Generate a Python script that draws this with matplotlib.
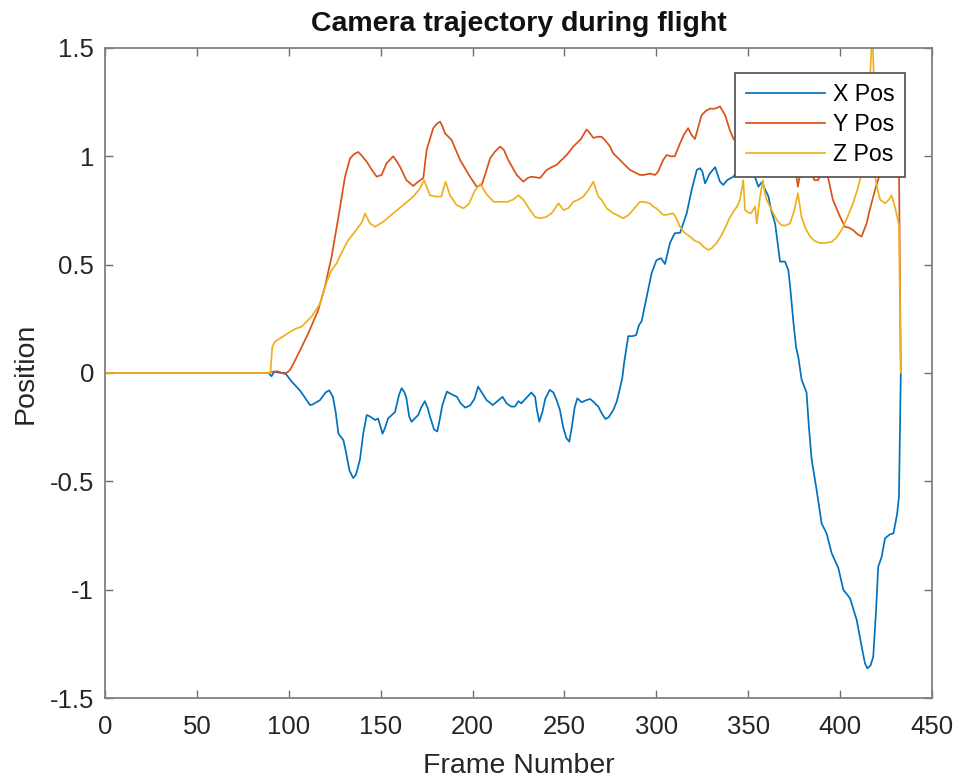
import matplotlib
matplotlib.use("Agg")
import matplotlib.pyplot as plt
from matplotlib.ticker import FuncFormatter

plt.rcParams['font.family'] = ['Liberation Sans', 'DejaVu Sans']
plt.rcParams['axes.unicode_minus'] = False

# camera position per frame (sampled at the turning points of each trace)
x_frames = [1, 89, 90.6, 92, 96, 98, 101.6, 106, 108.5, 111.5, 113, 117, 120, 122, 124, 125.5, 127,
            129.7, 131, 133, 135, 136.5, 138.7, 140.5, 142.4, 144, 147, 148.6, 151, 152.5, 154, 157.8,
            160, 161.4, 163, 164, 165.5, 166.8, 168.5, 170.4, 172, 174, 175.5, 176.8, 179, 180.8, 182,
            183.5, 186, 189, 191.5, 193.5, 196, 198.6, 201, 203, 205, 207.6, 211, 213.5, 216.3, 218.5,
            221, 223, 225, 226.5, 229, 232, 234, 235, 236.3, 238, 239.5, 242, 244, 245.7, 247.5, 249.3,
            251, 252.6, 254, 255.5, 257, 259.3, 262, 264, 266, 268.4, 270.5, 272.3, 274, 276.6, 278.5,
            280, 281.5, 282.5, 284.7, 287, 289, 290.5, 292, 294.7, 297.4, 300, 302.5, 304.7, 307.4, 310,
            312.9, 316.5, 319.2, 322, 323.7, 325, 326.5, 329, 332, 334.6, 336.4, 338.5, 341.9, 344, 347,
            350, 353, 355.5, 357.3, 359, 361, 362.5, 364.6, 366, 367.3, 370, 371.8, 373, 374.5, 376,
            377.3, 379, 381.7, 383, 384.5, 387.2, 389.9, 392.6, 395.4, 399, 401.7, 405.4, 409, 411.7,
            413.5, 414.8, 416.5, 418, 419.5, 420.7, 422.6, 424.4, 427, 429, 431, 432, 433]
x_pos = [0, 0, -0.015, 0.005, 0, 0, -0.04, -0.08, -0.11, -0.148, -0.145, -0.125, -0.09, -0.08, -0.11,
         -0.18, -0.28, -0.31, -0.36, -0.45, -0.485, -0.47, -0.40, -0.28, -0.194, -0.2, -0.217, -0.21,
         -0.28, -0.25, -0.21, -0.18, -0.1, -0.07, -0.09, -0.117, -0.2, -0.225, -0.21, -0.194, -0.16,
         -0.13, -0.16, -0.2, -0.26, -0.27, -0.22, -0.15, -0.086, -0.1, -0.11, -0.14, -0.16, -0.15,
         -0.12, -0.063, -0.09, -0.125, -0.148, -0.13, -0.11, -0.14, -0.155, -0.155, -0.13, -0.14,
         -0.117, -0.09, -0.11, -0.17, -0.225, -0.18, -0.12, -0.078, -0.09, -0.125, -0.17, -0.25, -0.3,
         -0.317, -0.25, -0.16, -0.117, -0.135, -0.125, -0.12, -0.135, -0.155, -0.19, -0.212, -0.205,
         -0.17, -0.13, -0.078, -0.02, 0.05, 0.17, 0.17, 0.175, 0.22, 0.24, 0.35, 0.46, 0.52, 0.53,
         0.503, 0.6, 0.645, 0.647, 0.737, 0.845, 0.937, 0.945, 0.93, 0.875, 0.92, 0.95, 0.883, 0.868,
         0.89, 0.906, 0.93, 0.95, 0.94, 0.92, 0.86, 0.88, 0.85, 0.814, 0.75, 0.69, 0.6, 0.514, 0.514,
         0.475, 0.38, 0.24, 0.12, 0.07, -0.03, -0.09, -0.25, -0.40, -0.54, -0.694, -0.74, -0.832,
         -0.9, -1.0, -1.04, -1.14, -1.263, -1.34, -1.363, -1.35, -1.31, -1.1, -0.894, -0.848, -0.763,
         -0.745, -0.74, -0.65, -0.57, 0]

y_frames = [1, 89, 91, 94, 96.5, 98, 100.7, 104, 108, 110.6, 116, 119.7, 123.3, 127, 130.6, 133.3,
            135.5, 137.8, 140, 142.4, 145, 147.8, 150.5, 153.2, 156.8, 158.5, 160.5, 164, 167.7, 170.4,
            173.2, 175, 178.6, 180.5, 182.3, 183.5, 185, 188.6, 193.2, 198.6, 202.2, 205, 207, 209.5,
            212, 215, 217, 219.4, 224, 227.6, 230, 232, 236.7, 240.3, 243, 245.7, 248, 251.2, 254.8,
            256.6, 259, 262, 263.5, 265.7, 268, 270.2, 272.5, 274.8, 276.5, 280.2, 283.8, 285.7, 291,
            293, 296.5, 299.3, 301, 303.7, 305.6, 308, 310, 312.9, 315, 317.3, 319, 321, 324.6, 327,
            329.2, 332, 334.6, 336, 337.4, 340, 342, 346, 350, 354, 358, 362, 366, 370, 374, 376, 377,
            378.5, 381, 384, 386, 388, 390, 392, 394, 396, 398, 400, 402.6, 405, 407, 409.5, 411.7, 413,
            414.4, 416, 418, 420, 423, 426, 429, 432, 433]
y_pos = [0, 0, 0.006, 0.008, 0, -0.005, 0.014, 0.068, 0.137, 0.183, 0.29, 0.4, 0.537, 0.72, 0.906,
         0.99, 1.01, 1.02, 1.0, 0.975, 0.94, 0.906, 0.914, 0.968, 1.0, 0.98, 0.952, 0.89, 0.863, 0.883,
         0.9, 1.03, 1.13, 1.15, 1.16, 1.14, 1.106, 1.075, 0.983, 0.906, 0.86, 0.868, 0.92, 0.99, 1.02,
         1.045, 1.03, 0.983, 0.914, 0.883, 0.9, 0.906, 0.9, 0.937, 0.95, 0.96, 0.98, 1.006, 1.045,
         1.06, 1.08, 1.124, 1.11, 1.085, 1.09, 1.09, 1.07, 1.045, 1.014, 0.983, 0.952, 0.937, 0.914,
         0.914, 0.92, 0.914, 0.93, 0.983, 1.006, 1.0, 1.0, 1.06, 1.1, 1.13, 1.1, 1.08, 1.19, 1.21,
         1.22, 1.22, 1.23, 1.21, 1.19, 1.12, 1.08, 1.05, 1.1, 1.15, 1.05, 1.0, 1.05, 1.0, 0.95, 0.92,
         0.86, 0.93, 0.95, 0.93, 0.89, 0.89, 0.93, 0.95, 0.88, 0.8, 0.76, 0.72, 0.675, 0.67, 0.66,
         0.64, 0.63, 0.66, 0.69, 0.75, 0.814, 0.875, 0.95, 1.0, 1.0, 0.95, 0]

z_frames = [1, 90, 91, 92.5, 95.2, 100.7, 104, 107, 110, 112.4, 117, 120.6, 123, 126, 129, 132.4, 136,
            138.7, 140, 141.5, 143, 144.2, 147, 151.4, 156.8, 162.3, 167.7, 171.4, 173.6, 175, 176.8,
            180, 183, 185.3, 187.7, 191.3, 195, 198, 201.3, 204.2, 207.6, 211.5, 215, 219, 222, 225,
            227.6, 231.3, 234, 236.7, 240, 243, 246.7, 249.5, 252, 254.8, 257.5, 260.2, 263, 265.7,
            268.4, 270.2, 273, 276.5, 278.4, 282, 285, 288, 291, 293, 296.5, 298.3, 300, 303.7, 305.6,
            309, 310.5, 312.9, 315, 318.3, 321, 323.7, 326, 328.2, 330, 332.8, 335, 337.4, 339.5,
            341.9, 344, 345.5, 346.5, 347.3, 348.2, 350, 351.5, 353.7, 354.6, 356.4, 358, 359, 360,
            363.6, 366, 368, 370, 372.7, 375, 377, 379, 381, 383.6, 386, 389, 392, 395.4, 398, 400.8,
            404, 407, 409.5, 411.7, 414, 416, 417.5, 418.5, 419, 420, 421.7, 424.4, 426.5, 428, 430,
            432, 433]
z_pos = [0, 0, 0.12, 0.145, 0.16, 0.19, 0.205, 0.214, 0.24, 0.26, 0.32, 0.42, 0.47, 0.506, 0.56,
         0.614, 0.652, 0.683, 0.7, 0.737, 0.71, 0.69, 0.675, 0.698, 0.737, 0.775, 0.814, 0.852, 0.89,
         0.86, 0.82, 0.814, 0.814, 0.883, 0.82, 0.775, 0.76, 0.78, 0.844, 0.872, 0.825, 0.79, 0.79,
         0.79, 0.8, 0.82, 0.8, 0.752, 0.72, 0.714, 0.72, 0.737, 0.783, 0.752, 0.76, 0.79, 0.8, 0.814,
         0.844, 0.883, 0.814, 0.8, 0.76, 0.737, 0.73, 0.714, 0.73, 0.76, 0.79, 0.79, 0.783, 0.768,
         0.76, 0.73, 0.73, 0.737, 0.72, 0.675, 0.65, 0.629, 0.61, 0.6, 0.58, 0.568, 0.575, 0.6, 0.63,
         0.668, 0.71, 0.745, 0.77, 0.8, 0.85, 0.89, 0.752, 0.74, 0.737, 0.768, 0.69, 0.814, 0.89,
         0.83, 0.8, 0.737, 0.7, 0.683, 0.68, 0.69, 0.75, 0.83, 0.72, 0.67, 0.63, 0.61, 0.6, 0.6,
         0.606, 0.625, 0.66, 0.72, 0.783, 0.85, 0.92, 1.05, 1.3, 1.6, 1.3, 0.906, 0.86, 0.8, 0.783,
         0.8, 0.82, 0.76, 0.683, 0]

labels = ["X Pos", "Y Pos", "Z Pos"]
colors = ["#0072BD", "#D95319", "#EDB120"]

fig = plt.figure(figsize=(9.59, 7.8), dpi=100)
ax = fig.add_axes([0.1095, 0.1051, 0.8624, 0.8334])

for fr, val, lab, col in zip([x_frames, y_frames, z_frames], [x_pos, y_pos, z_pos], labels, colors):
    ax.plot(fr, val, color=col, linewidth=1.25, label=lab)

ax.set_xlim(0, 450)
ax.set_ylim(-1.5, 1.5)
ax.set_xticks(range(0, 451, 50))
ax.set_yticks([-1.5, -1, -0.5, 0, 0.5, 1, 1.5])
ax.yaxis.set_major_formatter(FuncFormatter(lambda v, p: "{:g}".format(v)))

# boxed axes with inward ticks on all sides
ax.tick_params(direction="in", length=6, width=1.0, color="#6e6e6e",
               top=True, right=True, labelsize=18.5, labelcolor="#262626")
ax.tick_params(axis="x", pad=12)
ax.tick_params(axis="y", pad=8)
for s in ax.spines.values():
    s.set_color("#808080")
    s.set_linewidth(1.3)

ax.set_title("Camera trajectory during flight", fontsize=20.5, fontweight="bold", pad=12, color="#111111")
ax.set_xlabel("Frame Number", fontsize=20.5, labelpad=10, color="#262626")
ax.set_ylabel("Position", fontsize=20.5, labelpad=8, color="#262626")

leg = ax.legend(loc="upper right", bbox_to_anchor=(0.967, 0.9615), borderaxespad=0,
                fontsize=16.7, handlelength=3.4, handletextpad=0.35, labelspacing=0.3,
                fancybox=False, framealpha=1, edgecolor="#5a5a5a", borderpad=0.45)
leg.get_frame().set_linewidth(1.3)

fig.savefig("out.png", dpi=100)
